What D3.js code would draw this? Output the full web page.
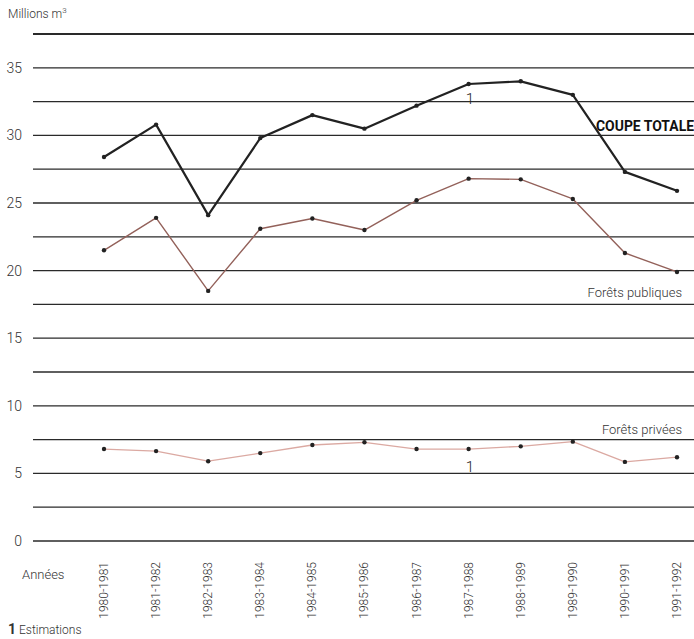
<!DOCTYPE html>
<html>
<head>
<meta charset="utf-8">
<script src="https://cdn.jsdelivr.net/npm/d3@7"></script>
<style>
  body { margin: 0; background: #fff; }
  text { font-family: Roboto, "Open Sans", sans-serif; font-weight: 300; fill: #333; }
</style>
</head>
<body>
<svg width="694" height="639"></svg>
<script>
// values (millions m3)
var annees = ["1980-1981", "1981-1982", "1982-1983", "1983-1984", "1984-1985", "1985-1986",
              "1986-1987", "1987-1988", "1988-1989", "1989-1990", "1990-1991", "1991-1992"];
var coupeTotale = [28.4, 30.8, 24.1, 29.8, 31.5, 30.5, 32.2, 33.8, 34.0, 33.0, 27.3, 25.9];
var foretsPubliques = [21.5, 23.9, 18.5, 23.1, 23.85, 23.0, 25.2, 26.8, 26.75, 25.3, 21.3, 19.9];
var foretsPrivees = [6.8, 6.65, 5.9, 6.5, 7.1, 7.3, 6.8, 6.8, 7.0, 7.35, 5.85, 6.2];
var gridValues = d3.range(0, 37.6, 2.5);
var tickLabels = [0, 5, 10, 15, 20, 25, 30, 35];

var svg = d3.select("svg");

var x = d3.scalePoint()
    .domain(annees)
    .range([104, 677]);

var y = d3.scaleLinear()
    .domain([0, 37.5])
    .range([541, 34]);

// horizontal rules
svg.append("g")
  .selectAll("line")
  .data(gridValues)
  .enter().append("line")
    .attr("x1", 33)
    .attr("x2", 694)
    .attr("y1", function(d) { return y(d); })
    .attr("y2", function(d) { return y(d); })
    .attr("stroke", "#2a2a2a")
    .attr("stroke-width", function(d) { return d == 37.5 ? 2 : 1.3; });

// y labels
svg.append("g")
  .selectAll("text")
  .data(tickLabels)
  .enter().append("text")
    .attr("x", 22)
    .attr("y", function(d) { return y(d) + 5; })
    .attr("text-anchor", "end")
    .attr("font-size", 14)
    .text(function(d) { return d; });

svg.append("text")
    .attr("x", 8)
    .attr("y", 18)
    .attr("font-size", 12)
    .html('Millions m<tspan dy="-5" font-size="8">3</tspan>');

var line = d3.line()
    .x(function(d, i) { return x(annees[i]); })
    .y(function(d) { return y(d); });

var series = [
  { values: foretsPrivees, color: "#dba9a2", width: 1.3 },
  { values: foretsPubliques, color: "#93615a", width: 1.4 },
  { values: coupeTotale, color: "#222", width: 2.2 }
];

series.forEach(function(s) {
  svg.append("path")
      .datum(s.values)
      .attr("fill", "none")
      .attr("stroke", s.color)
      .attr("stroke-width", s.width)
      .attr("stroke-linejoin", "round")
      .attr("d", line);

  svg.append("g")
    .selectAll("circle")
    .data(s.values)
    .enter().append("circle")
      .attr("cx", function(d, i) { return x(annees[i]); })
      .attr("cy", function(d) { return y(d); })
      .attr("r", 2.2)
      .attr("fill", "#222");
});

// series labels
svg.append("text")
    .attr("x", 694)
    .attr("y", y(30) - 4)
    .attr("text-anchor", "end")
    .attr("font-size", 14)
    .style("font-weight", "bold")
    .style("fill", "#111")
    .attr("textLength", 98)
    .attr("lengthAdjust", "spacingAndGlyphs")
    .text("COUPE TOTALE");

svg.append("text")
    .attr("x", 682)
    .attr("y", 297)
    .attr("text-anchor", "end")
    .attr("font-size", 13)
    .text("Forêts publiques");

svg.append("text")
    .attr("x", 682)
    .attr("y", 434)
    .attr("text-anchor", "end")
    .attr("font-size", 13)
    .text("Forêts privées");

// estimation marks
svg.append("text")
    .attr("x", x("1987-1988") - 3)
    .attr("y", y(coupeTotale[7]) + 20)
    .attr("font-size", 15)
    .style("fill", "#222")
    .text("1");

svg.append("text")
    .attr("x", x("1987-1988") - 3)
    .attr("y", y(foretsPrivees[7]) + 23)
    .attr("font-size", 15)
    .style("fill", "#222")
    .text("1");

// x labels
svg.append("text")
    .attr("x", 22)
    .attr("y", 579)
    .attr("font-size", 13)
    .text("Années");

svg.append("g")
  .selectAll("text")
  .data(annees)
  .enter().append("text")
    .attr("transform", function(d) { return "translate(" + (x(d) + 4) + ",562) rotate(-90)"; })
    .attr("text-anchor", "end")
    .attr("font-size", 12)
    .text(function(d) { return d; });

svg.append("text")
    .attr("x", 8)
    .attr("y", 634)
    .attr("font-size", 12)
    .html('<tspan font-weight="bold" font-size="14">1</tspan> Estimations');
</script>
</body>
</html>
